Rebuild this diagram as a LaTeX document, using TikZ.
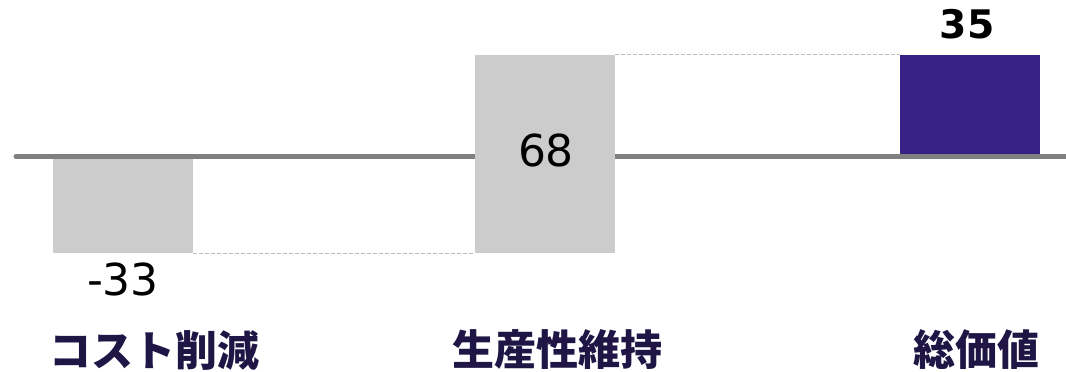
\documentclass[tikz,border=0pt]{standalone}
\usepackage{fontspec}
\usepackage{tikz}
\setmainfont{DejaVu Sans}
\newfontfamily\jpfont{Noto Sans CJK JP}[BoldFont={Noto Sans CJK JP Black}]
\definecolor{barGray}{HTML}{CCCCCC}
\definecolor{axisGray}{HTML}{808080}
\definecolor{totalPurple}{HTML}{372283}
\definecolor{labelNavy}{HTML}{1F1646}
\def\unit{2.19pt}

\begin{document}
\begin{tikzpicture}[x=0.75pt, y=-0.75pt,
  bar/.style={fill=barGray, inner sep=0pt, outer sep=0pt, minimum width=105pt, anchor=north west},
  link/.style={barGray!80!gray, line width=0.75pt, dash pattern=on 3pt off 1.5pt},
  value/.style={font=\fontsize{33}{36}\selectfont, inner sep=0pt},
  category/.style={font=\jpfont\bfseries\fontsize{31.5}{34}\selectfont, text=labelNavy, inner sep=0pt}]
\useasboundingbox (0,0) rectangle (1066,371);
% bars under the axis
\node[bar, minimum height={33*\unit}] (cut) at (53,157) {};
\node[bar, fill=totalPurple, minimum height={35*\unit}, anchor=south west] (total) at (900,157) {};
% axis
\coordinate (axisL) at (16,156.5);
\coordinate (axisR) at (1066,156.5);
\draw[axisGray, line width=3.75pt, line cap=round] (axisL) -- (axisR);
% bar over the axis
\node[bar, minimum height={68*\unit}, anchor=south west] (prod) at (cut.south east -| 475,0) {};
% dashed links
\draw[link] (cut.south east) -- (prod.south west);
\draw[link] (prod.north east) -- (total.north west);
% values
\node[value] (cutVal) at (123,279) {-33};
\node[value] (prodVal) at (546,150) {68};
\node[value, font=\bfseries\fontsize{29.5}{32}\selectfont] (totalVal) at (967,24) {35};
% categories
\node[category] (cutLab) at (154,350) {コスト削減};
\node[category] (prodLab) at (557,350) {生産性維持};
\node[category] (totalLab) at (976,350) {総価値};
\end{tikzpicture}
\end{document}
